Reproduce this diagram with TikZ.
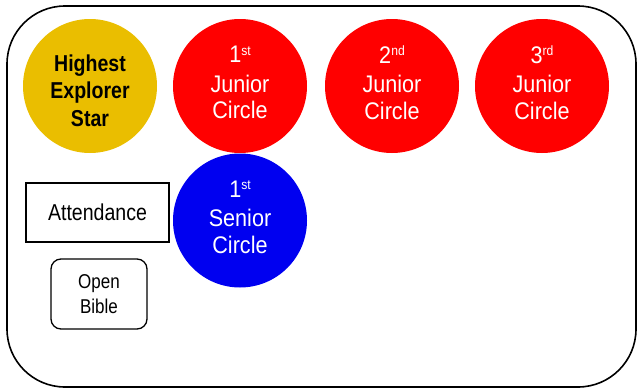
\documentclass[tikz,border=0pt]{standalone}
\usepackage{fontspec}
\setmainfont{Liberation Sans}[FakeStretch=0.85]
\newfontfamily\wideish{Liberation Sans}[FakeStretch=0.9]
\definecolor{gold}{RGB}{234,190,0}
\definecolor{cred}{RGB}{255,0,0}
\definecolor{cblue}{RGB}{0,0,240}
\newcommand{\ordsup}[1]{\raisebox{7.5pt}{\fontsize{13.5}{13.5}\selectfont #1}}
\begin{document}
\begin{tikzpicture}[x=1pt,y=-1pt,
  badge/.style={circle, minimum size=134pt, inner sep=0pt},
  badgetext/.style={inner sep=0pt, align=center, text=white,
    font=\wideish\fontsize{24}{26.5}\selectfont},
  plainbox/.style={draw, line width=1.3pt, align=center}]
\useasboundingbox (0,0) rectangle (638,388);
\draw[line width=1.6pt, rounded corners=58pt] (7,6) rectangle (636,387);
\node[badge, fill=gold] (hes) at (90,86) {};
\node[badgetext, text=black, font=\fontsize{23}{27.5}\selectfont\bfseries] (hest) at ([yshift=-4.5pt]hes.center) {Highest\\Explorer\\Star};
\node[badge, fill=cred] (j1) at (240,86) {};
\node[badgetext] (j1t) at ([yshift=3.5pt]j1.center) {1\ordsup{st}\\[3pt]Junior\\Circle};
\node[badge, fill=cred] (j2) at (392,86) {};
\node[badgetext] (j2t) at ([yshift=3.5pt]j2.center) {2\ordsup{nd}\\[3pt]Junior\\Circle};
\node[badge, fill=cred] (j3) at (542,86) {};
\node[badgetext] (j3t) at ([yshift=3.5pt]j3.center) {3\ordsup{rd}\\[3pt]Junior\\Circle};
\node[badge, fill=cblue] (s1) at (240,220.5) {};
\node[badgetext] (s1t) at ([yshift=3.5pt]s1.center) {1\ordsup{st}\\[3pt]Senior\\Circle};
\node[plainbox, minimum width=143pt, minimum height=59pt, font=\fontsize{23}{26}\selectfont] (att) at (97.5,212.5) {Attendance};
\node[plainbox, rounded corners=10pt, minimum width=96pt, minimum height=70pt, font=\fontsize{20}{25.5}\selectfont] (ob) at (99,294) {Open\\Bible};
\end{tikzpicture}
\end{document}
